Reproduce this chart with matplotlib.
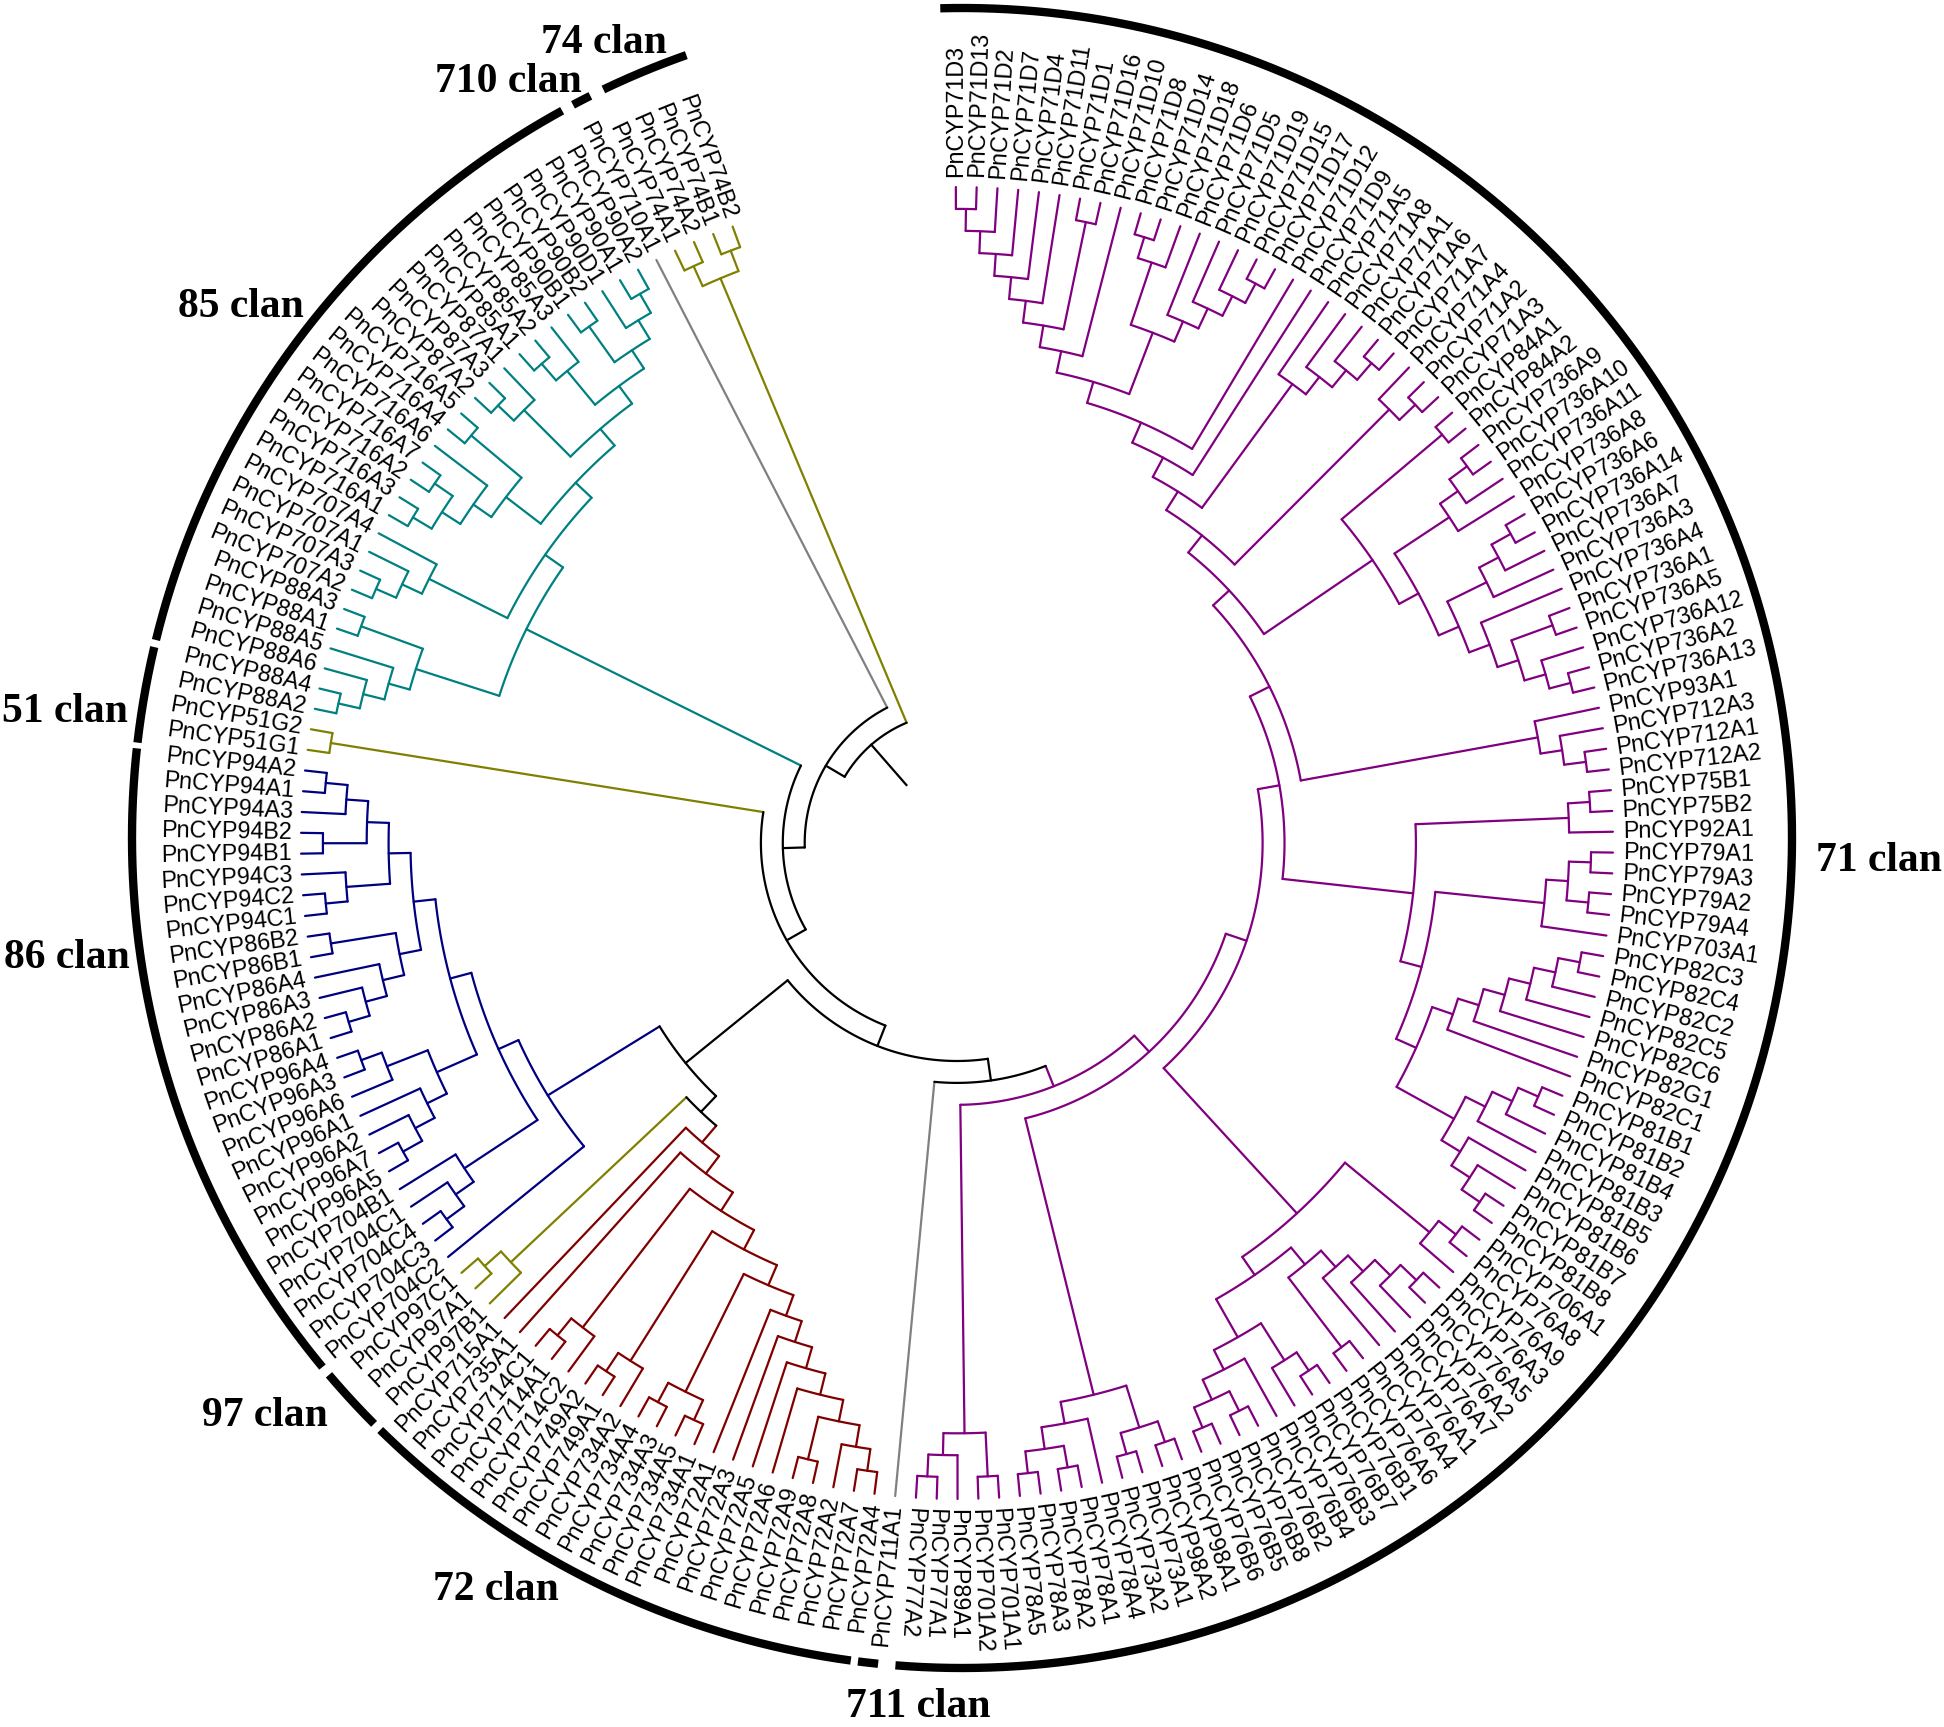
import numpy as np
import matplotlib
matplotlib.use('Agg')
import matplotlib.pyplot as plt

# Tree topology, every tuple is written clockwise starting at the top of the circle
c71_ladder = ((((((('71D3', '71D13'), '71D2'), '71D7'), '71D4'), '71D11'), ('71D1', '71D16')), '71D10')
c71_x = ((('71D8', '71D14'), '71D18'), ('71D6', ('71D5', ('71D19', ('71D15', '71D17')))))
c71_y = ('71A5', ('71A8', ('71A1', ('71A6', '71A7'))))
c71_z = ('71A4', ('71A2', '71A3'))
c736_p = ((('736A9', '736A10'), '736A11'), '736A8')
c736_q1 = ((('736A6', '736A14'), '736A7'), '736A3')
c736_q2 = ('736A4', (('736A1', '736A5'), ('736A12', ('736A2', '736A13'))))
c84 = (('84A1', '84A2'), (c736_p, (c736_q1, c736_q2)))
c93 = ('93A1', ('712A3', ('712A1', '712A2')))
c71_top = (((((((c71_ladder, c71_x), '71D12'), '71D9'), c71_y), c71_z), c84), c93)

c75 = (('75B1', '75B2'), '92A1')
c79 = ((('79A1', '79A3'), ('79A2', '79A4')), '703A1')
c82 = (((((('82C3', '82C4'), '82C2'), '82C5'), '82C6'), '82G1'), '82C1')
c81 = ((((('81B1', '81B2'), '81B4'), '81B3')), ('81B5', ('81B6', ('81B7', '81B8'))))
c75_81 = (c75, (c79, (c82, c81)))

c706 = (('706A1', '76A8'), '76A9')
c76a = (((('76A3', '76A5'), '76A2'), '76A7'), '76A1'), ('76A4', '76A6')
c76b = ((('76B1', '76B7'), '76B3'), ('76B4', (('76B2', '76B8'), ('76B5', '76B6'))))
c76 = (c706, (c76a, c76b))
c98 = (('98A1', '98A2'), ('73A1', '73A2'))
c78 = ('78A4', (('78A1', '78A2'), ('78A3', '78A5')))
c77 = (('701A1', '701A2'), ('89A1', ('77A1', '77A2')))
purple_clade = ((((c71_top, c75_81), c76), (c98, c78)), c77)

c72_core = ((('72A4', '72A7'), '72A2'), ('72A8', '72A9'))
c72 = ((((c72_core, '72A6'), '72A5'), '72A3'), '72A1')
c734 = (('734A1', '734A5'), ('734A3', '734A4'))
c749 = ('734A2', ('749A1', '749A2'))
c714 = ('714C2', ('714A1', '714C1'))
red_clade = (((((c72, c734), c749), c714), '735A1'), '715A1')
c97 = ('97B1', ('97A1', '97C1'))

c704 = ((('704C3', '704C4'), '704C1'), '704B1')
c96 = ((('96A5', '96A7'), '96A2'), '96A1'), ('96A6', ('96A3', '96A4'))
c86 = (((('86A1', '86A2'), '86A3'), '86A4'), ('86B1', '86B2'))
c94 = ((('94C1', '94C2'), '94C3'), (('94B1', '94B2'), ('94A3', ('94A1', '94A2'))))
blue_clade = ('704C2', (c704, (c96, (c86, c94))))

c51 = ('51G1', '51G2')
c88 = ((('88A2', '88A4'), '88A6'), '88A5'), ('88A1', '88A3')
c707 = ((('707A2', '707A3'), '707A1'), '707A4')
c716 = ((('716A1', '716A3'), ('716A2', '716A7')), '716A6'), ('716A4', '716A5')
c87 = (('87A2', '87A3'), '87A1')
c85 = (('85A1', '85A2'), '85A3')
c90 = (('90B1', '90B2'), ('90D1', ('90A1', '90A2')))
teal_clade = (c88, (c707, (c716, (c87, (c85, c90)))))
c74 = (('74A1', '74A2'), ('74B1', '74B2'))

tree = ((((((purple_clade, '711A1'), ((red_clade, c97), blue_clade)), c51), teal_clade), '710A1'), c74)

clade_colours = [
    (purple_clade, '#800080'), (red_clade, '#800000'), (blue_clade, '#000080'),
    (teal_clade, '#008080'), (c97, '#808000'), (c51, '#808000'), (c74, '#808000'),
    ('711A1', '#808080'), ('710A1', '#808080'),
]

# Clan ring: start and end angle (degrees clockwise from north)
ring_spans = [(-1.5, 184.6), (185.8, 187.2), (187.7, 224.5), (225.1, 229.7), (230.4, 276.2),
              (276.6, 283.3), (283.8, 331.2), (332.05, 333.4), (334.4, 340.6)]
clan_names = ['74 clan', '710 clan', '85 clan', '51 clan', '86 clan', '97 clan', '72 clan', '711 clan', '71 clan']
clan_x = [541, 435, 178, 2, 4, 202, 433, 846, 1816]
clan_y = [53, 92, 317, 722, 968, 1426, 1600, 1717, 871]

# Layout in pixels of the output picture
cx, cy = 957, 843
r_tip = 656
step = 21.9
ring_cx, ring_cy, ring_r = 962, 838, 830
first_angle, last_angle = -0.1, 340.0
flip_angle = 184.6
prefix = 'PnCYP'


def leaves(node):
    if isinstance(node, str):
        return [node]
    out = []
    for child in node:
        out += leaves(child)
    return out


def height(node):
    if isinstance(node, str):
        return 0
    return 1 + max(height(child) for child in node)


def xy(angle, r):
    a = np.radians(angle)
    return cx + r * np.sin(a), cy - r * np.cos(a)


all_leaves = leaves(tree)
leaf_angles = dict(zip(all_leaves, np.linspace(first_angle, last_angle, len(all_leaves))))
leaf_colours = {}
for clade, colour in clade_colours:
    for name in leaves(clade):
        leaf_colours[name] = colour

fig = plt.figure(figsize=(19.44, 17.27), dpi=100)
ax = fig.add_axes([0, 0, 1, 1])
ax.set_xlim(0, 1944)
ax.set_ylim(1727, 0)
ax.axis('off')

LW = 1.6


def draw_node(node):
    # Returns angle, radius and colour of a node after drawing its children
    if isinstance(node, str):
        return leaf_angles[node], r_tip, leaf_colours[node]
    r = r_tip - step * height(node)
    kids = [draw_node(child) for child in node]
    colours = {k[2] for k in kids}
    colour = colours.pop() if len(colours) == 1 else 'black'
    for angle, r_kid, kid_colour in kids:
        px, py = xy(np.array([angle, angle]), np.array([r, r_kid]))
        ax.plot(px, py, color=kid_colour, lw=LW, solid_capstyle='round')
    angles = np.linspace(kids[0][0], kids[-1][0], 60)
    px, py = xy(angles, r)
    ax.plot(px, py, color=colour, lw=LW, solid_capstyle='round')
    return (kids[0][0] + kids[-1][0]) / 2, r, colour


root_angle, root_r, _ = draw_node(tree)
px, py = xy(np.array([root_angle, root_angle]), np.array([77, root_r]))
ax.plot(px, py, color='black', lw=LW)

# Leaf labels
for name, angle in leaf_angles.items():
    if angle < flip_angle:
        lx, ly = xy(angle, r_tip + 10)
        ax.text(lx, ly, prefix + name, rotation=90 - angle, rotation_mode='anchor', ha='left', va='center',
                family='Liberation Sans', fontsize=16.8, color='black')
    else:
        lx, ly = xy(angle, r_tip + 9)
        ax.text(lx, ly, prefix + name, rotation=270 - angle, rotation_mode='anchor', ha='right', va='center',
                family='Liberation Sans', fontsize=16.8, color='black')

# Outer ring
for start, end in ring_spans:
    a = np.radians(np.linspace(start, end, 200))
    ax.plot(ring_cx + ring_r * np.sin(a), ring_cy - ring_r * np.cos(a), color='black', lw=6, solid_capstyle='butt')

for name, x, y in zip(clan_names, clan_x, clan_y):
    ax.text(x, y, name, family='Liberation Serif', fontweight='bold', fontsize=30, ha='left', va='baseline')

fig.savefig('out.png', dpi=100, facecolor='white')
